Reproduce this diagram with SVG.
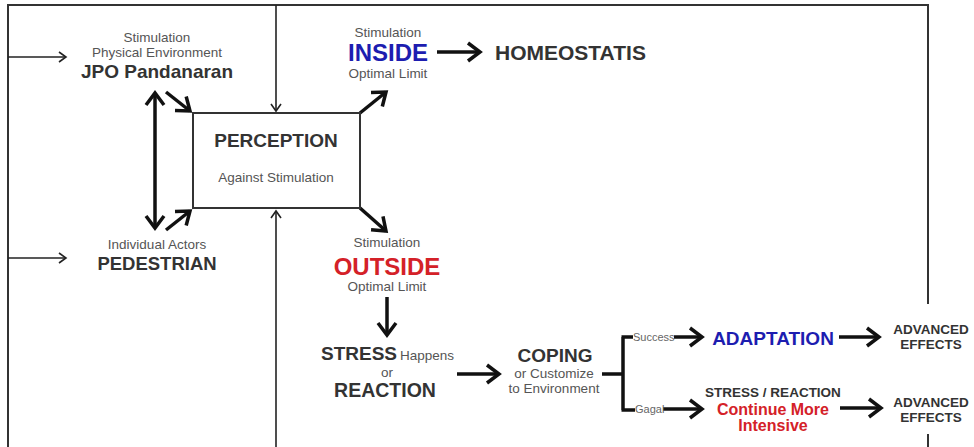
<svg xmlns="http://www.w3.org/2000/svg" width="974" height="447" viewBox="0 0 974 447">
<defs>
<style>
text{font-family:"Liberation Sans",Arial,sans-serif;}
.s{font-size:13.5px;fill:#555;text-anchor:middle;}
.b{font-weight:bold;fill:#333;text-anchor:middle;}
.blue{fill:#1d1db0;}
.red{fill:#d42128;}
.thin{stroke:#222;stroke-width:1.6;fill:none;}
.thick{stroke:#111;stroke-width:3.5;fill:none;}
.frame{stroke:#333;stroke-width:2;fill:none;}
.tiny{font-size:11px;fill:#666;}
</style>
<marker id="ah" markerUnits="userSpaceOnUse" markerWidth="30" markerHeight="30" refX="0" refY="0" viewBox="-15 -15 30 30" orient="auto-start-reverse" overflow="visible">
<path d="M-12,-9 L0,0 L-12,9" fill="none" stroke="#111" stroke-width="3.5" stroke-linejoin="miter"/>
</marker>
<marker id="at" markerUnits="userSpaceOnUse" markerWidth="20" markerHeight="20" refX="0" refY="0" viewBox="-10 -10 20 20" orient="auto" overflow="visible">
<path d="M-7,-5 L0,0 L-7,5" fill="none" stroke="#222" stroke-width="1.6"/>
</marker>
</defs>
<rect width="974" height="447" fill="#fff"/>

<g id="connectors">
<path class="frame" d="M8,447 V5 H928 V304"/>
<path class="frame" d="M928,434 V447"/>
<path class="thin" d="M276,5 V111" marker-end="url(#at)"/>
<path class="thin" d="M276,447 V211" marker-end="url(#at)"/>
<path class="thin" d="M8,57 H66" marker-end="url(#at)"/>
<path class="thin" d="M8,258 H66" marker-end="url(#at)"/>
<path class="thick" d="M155,93 V228" marker-start="url(#ah)" marker-end="url(#ah)"/>
<path class="thick" d="M166,92 L190,111" marker-end="url(#ah)"/>
<path class="thick" d="M166,230 L190,211" marker-end="url(#ah)"/>
<path class="thick" d="M360,113 L386,92" marker-end="url(#ah)"/>
<path class="thick" d="M360,208 L386,231" marker-end="url(#ah)"/>
<path class="thick" d="M437,52 H480" marker-end="url(#ah)"/>
<path class="thick" d="M387,297 V335" marker-end="url(#ah)"/>
<path class="thick" d="M457,374 H499" marker-end="url(#ah)"/>
<path class="thick" d="M602,374 H623 M623,337 V410 M621.5,337 H633 M621.5,410 H635" stroke-width="3"/>
<path class="thick" d="M674,337 H702" marker-end="url(#ah)"/>
<path class="thick" d="M663,409 H702" marker-end="url(#ah)"/>
<path class="thick" d="M839,337 H879" marker-end="url(#ah)"/>
<path class="thick" d="M840,408 H881" marker-end="url(#ah)"/>
</g>

<g id="jpo">
<text class="s" x="157" y="42">Stimulation</text>
<text class="s" x="157" y="57">Physical Environment</text>
<text class="b" x="157" y="78" font-size="19">JPO Pandanaran</text>
</g>

<g id="pedestrian">
<text class="s" x="157" y="249">Individual Actors</text>
<text class="b" x="157" y="270" font-size="18.5">PEDESTRIAN</text>
</g>

<g id="perception">
<rect x="193" y="113" width="167" height="95" fill="#fff" stroke="#333" stroke-width="2"/>
<text class="b" x="276" y="147" font-size="19">PERCEPTION</text>
<text class="s" x="276" y="182" font-size="13">Against Stimulation</text>
</g>

<g id="inside">
<text class="s" x="388" y="37">Stimulation</text>
<text class="b blue" x="388" y="61" font-size="24">INSIDE</text>
<text class="s" x="388" y="78">Optimal Limit</text>
</g>

<g id="homeostatis">
<text class="b" x="495" y="60" font-size="21" text-anchor="start" style="text-anchor:start">HOMEOSTATIS</text>
</g>

<g id="outside">
<text class="s" x="387" y="247">Stimulation</text>
<text class="b red" x="387" y="275" font-size="24">OUTSIDE</text>
<text class="s" x="387" y="291">Optimal Limit</text>
</g>

<g id="stress">
<text class="b" x="321" y="360" font-size="19" style="text-anchor:start">STRESS</text>
<text class="s" x="400" y="360" style="text-anchor:start">Happens</text>
<text class="s" x="387" y="377">or</text>
<text class="b" x="385" y="397" font-size="19.5">REACTION</text>
</g>

<g id="coping">
<text class="b" x="555" y="362" font-size="19">COPING</text>
<text class="s" x="554" y="378">or Customize</text>
<text class="s" x="554" y="393">to Environment</text>
</g>

<g id="labels">
<text class="tiny" x="633" y="341">Success</text>
<text class="tiny" x="635" y="413">Gagal</text>
</g>

<g id="adaptation">
<text class="b blue" x="773" y="345" font-size="19">ADAPTATION</text>
</g>

<g id="continue">
<text class="b" x="773" y="397" font-size="13.5">STRESS / REACTION</text>
<text class="b red" x="773" y="415" font-size="16">Continue More</text>
<text class="b red" x="773" y="431" font-size="16">Intensive</text>
</g>

<g id="effects1">
<text class="b" x="931" y="334" font-size="13.5">ADVANCED</text>
<text class="b" x="931" y="349" font-size="13.5">EFFECTS</text>
</g>

<g id="effects2">
<text class="b" x="931" y="407" font-size="13.5">ADVANCED</text>
<text class="b" x="931" y="422" font-size="13.5">EFFECTS</text>
</g>
</svg>
